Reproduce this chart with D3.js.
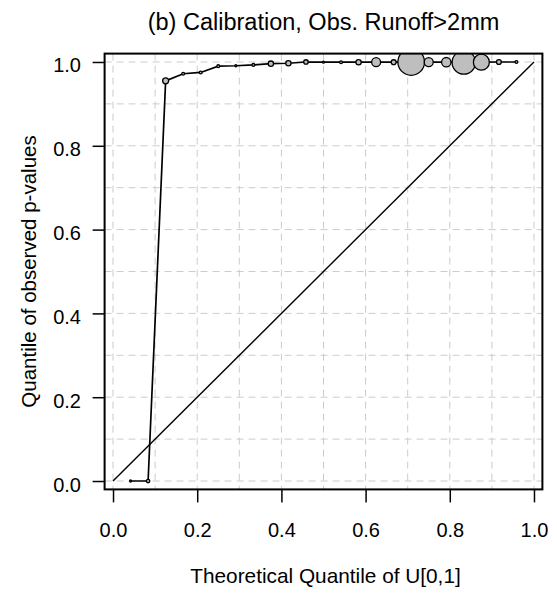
<!DOCTYPE html>
<html>
<head>
<meta charset="utf-8">
<script src="https://cdn.jsdelivr.net/npm/d3@7"></script>
<style>
  body { margin: 0; background: #fff; }
  svg text { font-family: "Liberation Sans", Arial, sans-serif; fill: #000; }
</style>
</head>
<body>
<div id="chart"></div>
<script>
// Q-Q calibration plot (observed p-value quantiles vs U[0,1])

// Data
const theoQuantile = [1, 2, 3, 4, 5, 6, 7, 8, 9, 10, 11, 12, 13, 14, 15, 16, 17, 18, 19, 20, 21, 22, 23].map(i => i / 24);
const obsQuantile = [0.0, 0.0, 0.955, 0.972, 0.975, 0.990, 0.991, 0.993, 0.996, 0.997, 1.0, 0.9995,
    0.9995, 0.9995, 0.9995, 0.9995, 1.0, 0.9995, 0.9995, 0.999, 0.9995, 1.0, 1.0];
const pointCount = [1, 3, 9, 2, 2, 2, 1, 2, 7, 7, 5, 1, 2, 7, 20, 6, 177, 20, 22, 137, 64, 6, 2];
const tickValues = [0, 0.2, 0.4, 0.6, 0.8, 1.0];
const gridValues = [0, 0.1, 0.2, 0.3, 0.4, 0.5, 0.6, 0.7, 0.8, 0.9, 1.0];

const W = 557, H = 594;
const box = { left: 104.6, right: 542.4, top: 53.6, bottom: 489.4 };

const svg = d3.select('#chart')
    .append('svg')
    .attr('width', W)
    .attr('height', H);

const x = d3.scaleLinear().domain([-0.02, 1.02]).range([box.left, box.right]);
const y = d3.scaleLinear().domain([-0.02, 1.02]).range([box.bottom, box.top]);
const r = d3.scaleSqrt().domain([0, 177]).range([0, 13.3]);

svg.append('clipPath')
    .attr('id', 'plotclip')
    .append('rect')
    .attr('x', box.left).attr('y', box.top)
    .attr('width', box.right - box.left)
    .attr('height', box.bottom - box.top);

// grid
const grid = svg.append('g')
    .attr('stroke', '#cccccc')
    .attr('stroke-width', 1)
    .attr('stroke-dasharray', '7,5');

grid.selectAll('.gv')
    .data(gridValues)
    .enter()
    .append('line')
    .attr('x1', d => x(d)).attr('x2', d => x(d))
    .attr('y1', box.top).attr('y2', box.bottom);

grid.selectAll('.gh')
    .data(gridValues)
    .enter()
    .append('line')
    .attr('y1', d => y(d)).attr('y2', d => y(d))
    .attr('x1', box.left).attr('x2', box.right);

// 1:1 line
svg.append('line')
    .attr('x1', x(0)).attr('y1', y(0))
    .attr('x2', x(1)).attr('y2', y(1))
    .attr('stroke', '#000')
    .attr('stroke-width', 1.4);

const pts = theoQuantile.map((t, i) => ({ t: t, q: obsQuantile[i], n: pointCount[i] }));

const plot = svg.append('g').attr('clip-path', 'url(#plotclip)');

const line = d3.line()
    .x(d => x(d.t))
    .y(d => y(d.q));

plot.append('path')
    .datum(pts)
    .attr('d', line)
    .attr('fill', 'none')
    .attr('stroke', '#000')
    .attr('stroke-width', 1.7);

plot.selectAll('.pt')
    .data(pts)
    .enter()
    .append('circle')
    .attr('cx', d => x(d.t))
    .attr('cy', d => y(d.q))
    .attr('r', d => r(d.n))
    .attr('fill', '#bebebe')
    .attr('stroke', '#000')
    .attr('stroke-width', 1.3);

// box
svg.append('rect')
    .attr('x', box.left).attr('y', box.top)
    .attr('width', box.right - box.left)
    .attr('height', box.bottom - box.top)
    .attr('fill', 'none')
    .attr('stroke', '#000')
    .attr('stroke-width', 2);

// axes
const xAxis = svg.append('g')
    .attr('transform', `translate(0,${box.bottom})`)
    .call(d3.axisBottom(x).tickValues(tickValues).tickSize(13).tickSizeOuter(0).tickFormat(d3.format('.1f')));

const yAxis = svg.append('g')
    .attr('transform', `translate(${box.left},0)`)
    .call(d3.axisLeft(y).tickValues(tickValues).tickSize(12).tickSizeOuter(0).tickFormat(d3.format('.1f')));

[xAxis, yAxis].forEach(g => {
    g.select('.domain').remove();
    g.selectAll('.tick line').attr('stroke', '#000').attr('stroke-width', 1.5);
    g.selectAll('.tick text')
        .style('font-size', '20px')
        .attr('fill', '#000');
});

xAxis.selectAll('.tick text').attr('y', 47.6).attr('dy', 0);
yAxis.selectAll('.tick text').attr('x', -23.6).attr('dy', 0).attr('y', 10);

// titles
svg.append('text')
    .attr('x', (box.left + box.right) / 2)
    .attr('y', 30)
    .attr('text-anchor', 'middle')
    .style('font-size', '23.5px')
    .text('(b) Calibration, Obs. Runoff>2mm');

svg.append('text')
    .attr('x', (box.left + box.right) / 2 + 2)
    .attr('y', 583)
    .attr('text-anchor', 'middle')
    .style('font-size', '20.8px')
    .text('Theoretical Quantile of U[0,1]');

svg.append('text')
    .attr('transform', `translate(36,${(box.top + box.bottom) / 2}) rotate(-90)`)
    .attr('text-anchor', 'middle')
    .style('font-size', '20.5px')
    .text('Quantile of observed p-values');
</script>
</body>
</html>
